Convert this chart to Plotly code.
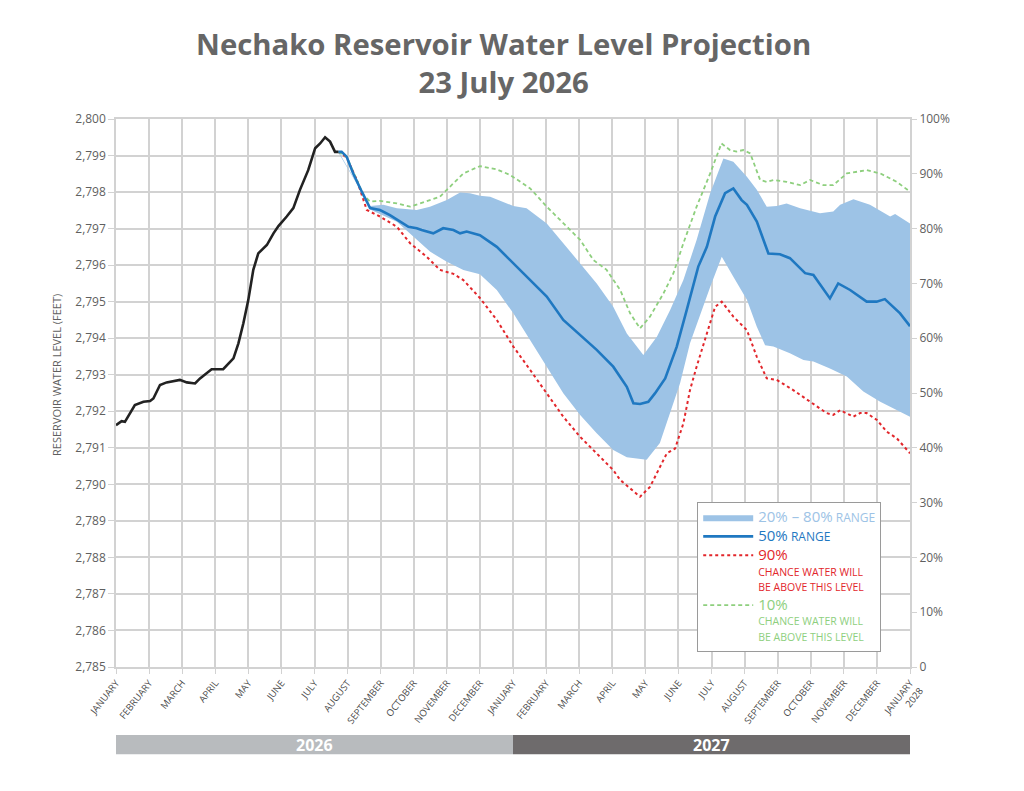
import plotly.graph_objects as go

# ---------------- data (t = months since 1 Jan 2026) ----------------
hist_t = [0.0, 0.17, 0.27, 0.42, 0.57, 0.83, 1.03, 1.13, 1.33, 1.53, 1.78, 1.93, 2.14, 2.39,
          2.54, 2.74, 2.89, 3.24, 3.39, 3.55, 3.70, 3.85, 4.00, 4.15, 4.30, 4.56, 4.76, 4.91,
          5.16, 5.36, 5.56, 5.81, 6.02, 6.17, 6.32, 6.47, 6.62, 6.72]
hist_lvl = [2791.62, 2791.73, 2791.71, 2791.94, 2792.17, 2792.26, 2792.28, 2792.35, 2792.72,
            2792.79, 2792.83, 2792.86, 2792.79, 2792.76, 2792.90, 2793.04, 2793.15, 2793.15,
            2793.31, 2793.45, 2793.86, 2794.41, 2795.05, 2795.87, 2796.32, 2796.55, 2796.87,
            2797.07, 2797.33, 2797.56, 2798.06, 2798.60, 2799.20, 2799.33, 2799.50, 2799.38,
            2799.10, 2799.10]

p50_t = [6.72, 6.82, 6.97, 7.17, 7.43, 7.68, 7.98, 8.28, 8.59, 8.84, 9.09, 9.24, 9.59, 9.89,
         10.20, 10.40, 10.60, 10.80, 11.00, 11.51, 12.01, 12.52, 13.02, 13.52, 14.03, 14.53,
         15.03, 15.44, 15.64, 15.84, 16.09, 16.29, 16.60, 16.95, 17.25, 17.60, 17.86, 18.11,
         18.41, 18.66, 18.91, 19.07, 19.37, 19.72, 20.07, 20.37, 20.83, 21.08, 21.58, 21.83,
         22.19, 22.69, 22.99, 23.24, 23.70, 23.95, 24.0]
p50_lvl = [2799.10, 2799.10, 2798.97, 2798.51, 2798.01, 2797.56, 2797.51, 2797.37, 2797.19,
           2797.05, 2797.01, 2796.96, 2796.87, 2797.01, 2796.96, 2796.87, 2796.92, 2796.87,
           2796.82, 2796.50, 2796.05, 2795.59, 2795.14, 2794.50, 2794.09, 2793.68, 2793.22,
           2792.67, 2792.22, 2792.20, 2792.26, 2792.49, 2792.90, 2793.77, 2794.77, 2795.96,
           2796.50, 2797.33, 2797.97, 2798.10, 2797.78, 2797.65, 2797.19, 2796.32, 2796.30,
           2796.19, 2795.78, 2795.73, 2795.09, 2795.50, 2795.32, 2795.00, 2795.00, 2795.07,
           2794.68, 2794.36, 2794.33]

p80_t = [6.72, 7.43, 7.68, 8.08, 8.49, 9.09, 9.49, 10.00, 10.40, 10.70, 11.00, 11.31, 12.01,
         12.41, 13.02, 13.52, 14.03, 14.53, 15.03, 15.44, 15.94, 16.35, 16.75, 17.15, 17.55,
         17.96, 18.36, 18.66, 19.07, 19.37, 19.67, 19.97, 20.27, 20.68, 21.28, 21.68, 21.89,
         22.29, 22.79, 23.40, 23.55, 24.0]
p80_lvl = [2799.12, 2798.04, 2797.62, 2797.65, 2797.56, 2797.51, 2797.60, 2797.78, 2797.99,
           2797.97, 2797.90, 2797.87, 2797.62, 2797.56, 2797.14, 2796.60, 2796.05, 2795.50,
           2794.86, 2794.13, 2793.54, 2794.04, 2794.77, 2795.59, 2796.69, 2797.97, 2798.92,
           2798.83, 2798.42, 2798.06, 2797.60, 2797.62, 2797.69, 2797.56, 2797.42, 2797.47,
           2797.65, 2797.80, 2797.65, 2797.33, 2797.40, 2797.14]

p20_t = [6.72, 7.43, 7.68, 8.49, 8.99, 9.49, 10.00, 10.50, 11.00, 11.51, 12.01, 12.52, 13.02,
         13.52, 14.03, 14.53, 15.03, 15.44, 16.04, 16.44, 16.75, 17.05, 17.35, 17.65, 17.96,
         18.31, 18.66, 19.07, 19.37, 19.62, 19.87, 20.37, 20.78, 21.08, 21.58, 22.09, 22.59,
         23.10, 23.60, 24.0]
p20_lvl = [2799.08, 2797.99, 2797.52, 2797.19, 2796.78, 2796.37, 2796.09, 2795.87, 2795.75,
           2795.32, 2794.68, 2793.95, 2793.22, 2792.49, 2791.90, 2791.40, 2790.94, 2790.74,
           2790.67, 2791.13, 2791.95, 2792.77, 2793.86, 2794.59, 2795.40, 2796.23, 2795.68,
           2795.05, 2794.31, 2793.81, 2793.77, 2793.59, 2793.40, 2793.36, 2793.17, 2792.95,
           2792.54, 2792.26, 2792.03, 2791.85]

p90_t = [6.72, 6.97, 7.28, 7.58, 7.98, 8.49, 8.89, 9.39, 9.79, 10.20, 10.50, 11.00, 11.51,
         12.01, 12.52, 13.02, 13.52, 14.03, 14.53, 15.03, 15.24, 15.84, 16.14, 16.65, 16.90,
         17.15, 17.35, 17.55, 17.86, 18.11, 18.31, 18.66, 19.07, 19.37, 19.67, 19.97, 20.47,
         20.98, 21.48, 21.68, 21.89, 22.29, 22.49, 22.69, 23.00, 23.30, 23.60, 24.0]
p90_lvl = [2799.10, 2798.95, 2798.33, 2797.51, 2797.33, 2797.05, 2796.60, 2796.23, 2795.87,
           2795.76, 2795.59, 2795.10, 2794.50, 2793.77, 2793.13, 2792.49, 2791.85, 2791.30,
           2790.85, 2790.39, 2790.12, 2789.66, 2789.93, 2790.85, 2790.98, 2791.67, 2792.58,
           2793.22, 2794.13, 2794.86, 2795.00, 2794.59, 2794.22, 2793.49, 2792.90, 2792.86,
           2792.58, 2792.26, 2791.95, 2791.90, 2792.03, 2791.85, 2791.95, 2791.95, 2791.76,
           2791.44, 2791.26, 2790.85]

p10_t = [6.72, 6.97, 7.48, 7.68, 7.98, 8.49, 8.89, 9.39, 9.79, 10.00, 10.50, 11.00, 11.51,
         11.91, 12.52, 13.02, 13.52, 14.03, 14.43, 14.83, 15.24, 15.54, 15.84, 16.14, 16.55,
         16.85, 17.15, 17.55, 17.96, 18.30, 18.56, 18.76, 18.96, 19.17, 19.47, 19.67, 19.87,
         20.27, 20.68, 20.98, 21.38, 21.68, 22.09, 22.69, 23.10, 23.60, 24.0]
p10_lvl = [2799.10, 2798.97, 2797.92, 2797.74, 2797.76, 2797.69, 2797.60, 2797.74, 2797.87,
           2798.06, 2798.51, 2798.71, 2798.62, 2798.47, 2798.10, 2797.60, 2797.14, 2796.69,
           2796.14, 2795.87, 2795.32, 2794.68, 2794.27, 2794.59, 2795.23, 2795.78, 2796.60,
           2797.60, 2798.51, 2799.33, 2799.15, 2799.11, 2799.15, 2799.06, 2798.33, 2798.28,
           2798.33, 2798.28, 2798.19, 2798.33, 2798.19, 2798.19, 2798.51, 2798.60, 2798.51,
           2798.28, 2798.01]

month_names = ["JANUARY", "FEBRUARY", "MARCH", "APRIL", "MAY", "JUNE", "JULY", "AUGUST",
               "SEPTEMBER", "OCTOBER", "NOVEMBER", "DECEMBER"]
x_ticktext = month_names + month_names + ["JANUARY<br>2028"]
y_ticks = list(range(2785, 2801))
pct_ticks = list(range(0, 101, 10))
pct_text = ["0"] + [f"{p}%" for p in pct_ticks[1:]]
years = ["2026", "2027"]
year_colors = ["#b8bbbe", "#6e6b6c"]

# ---------------- styles ----------------
GRID = "#d2d2d2"
TXT = "#5f5f5f"
BAND = "#9dc3e6"
BLUE = "#1f78c1"
RED = "#e2262b"
GREEN = "#8ecf7e"
FONT = "Open Sans"


def legend_label(big, small, color, br):
    sep = "<br>" if br else " "
    return (f"<span style='font-size:15px;color:{color}'>{big}</span>{sep}"
            f"<span style='font-size:{10.5 if br else 12}px;color:{color}'>{small}</span>")


fig = go.Figure()

# 20-80 band as a closed polygon
fig.add_trace(go.Scatter(
    x=p80_t + p20_t[::-1], y=p80_lvl + p20_lvl[::-1],
    fill="toself", fillcolor=BAND, mode="lines", line=dict(width=0, color=BAND),
    name=legend_label("20% – 80%", "RANGE", BAND, False), hoverinfo="skip"))

fig.add_trace(go.Scatter(
    x=p90_t, y=p90_lvl, mode="lines", line=dict(color=RED, width=2, dash="3px,3px"),
    showlegend=False))
fig.add_trace(go.Scatter(
    x=p10_t, y=p10_lvl, mode="lines", line=dict(color=GREEN, width=1.8, dash="4px,3px"),
    showlegend=False))

fig.add_trace(go.Scatter(
    x=p50_t, y=p50_lvl, mode="lines", line=dict(color=BLUE, width=2.6),
    name=legend_label("50%", "RANGE", BLUE, False)))

fig.add_trace(go.Scatter(
    x=hist_t, y=hist_lvl, mode="lines", line=dict(color="#222222", width=2.6),
    showlegend=False))

# legend entries for the dotted lines (kept after the 50% line)
fig.add_trace(go.Scatter(
    x=[None], y=[None], mode="lines", line=dict(color=RED, width=2, dash="3px,3px"),
    name=legend_label("90%", "CHANCE WATER WILL<br>BE ABOVE THIS LEVEL", RED, True)))
fig.add_trace(go.Scatter(
    x=[None], y=[None], mode="lines", line=dict(color=GREEN, width=1.8, dash="4px,3px"),
    name=legend_label("10%", "CHANCE WATER WILL<br>BE ABOVE THIS LEVEL", GREEN, True)))

# invisible trace on the right axis so it is drawn
fig.add_trace(go.Scatter(x=[None], y=[None], yaxis="y2", showlegend=False))

# year bars below the axis
for i, (yr, col) in enumerate(zip(years, year_colors)):
    fig.add_shape(type="rect", xref="x", yref="paper", x0=i * 12, x1=(i + 1) * 12,
                  y0=-0.159, y1=-0.124, fillcolor=col, line=dict(width=0), layer="below")
    fig.add_annotation(x=i * 12 + 6, y=-0.1415, xref="x", yref="paper", text=f"<b>{yr}</b>",
                       xanchor="center", yanchor="middle", showarrow=False,
                       font=dict(family=FONT, size=16, color="white"))

fig.add_annotation(x=-0.0743, y=0.533, xref="paper", yref="paper", textangle=-90,
                   xanchor="center", yanchor="middle",
                   text="RESERVOIR WATER LEVEL (FEET)", showarrow=False,
                   font=dict(family=FONT, size=11, color=TXT))

fig.update_layout(
    width=1024, height=791,
    margin=dict(l=108, r=122, t=111, b=132),
    paper_bgcolor="white", plot_bgcolor="white",
    title=dict(text="Nechako Reservoir Water Level Projection<br>23 July 2026",
               x=0.484, xanchor="center", y=0.941, yanchor="top",
               font=dict(family=FONT, size=29.3, color="#666666", weight="bold")),
    xaxis=dict(range=[0, 24], tickmode="array", tickvals=list(range(25)), ticktext=x_ticktext,
               tickangle=-52, tickfont=dict(family=FONT, size=9.5, color="#4a4a4a"),
               showgrid=True, gridcolor=GRID, gridwidth=1.5, zeroline=False,
               showline=True, linecolor=GRID, linewidth=1.5, mirror=True,
               ticks="outside", ticklen=5, tickcolor=GRID),
    yaxis=dict(range=[2785, 2800], tickmode="array", tickvals=y_ticks,
               tickformat=",d", tickfont=dict(family=FONT, size=12, color=TXT),
               showgrid=True, gridcolor=GRID, gridwidth=1.5, zeroline=False,
               showline=True, linecolor=GRID, linewidth=1.5, mirror=True,
               ticks="outside", ticklen=6, tickcolor=GRID),
    yaxis2=dict(range=[0, 100], overlaying="y", side="right", tickmode="array",
                tickvals=pct_ticks, ticktext=pct_text,
                tickfont=dict(family=FONT, size=12, color=TXT), showgrid=False,
                zeroline=False, ticks="outside", ticklen=6, tickcolor=GRID),
    legend=dict(x=0.732, y=0.301, xanchor="left", yanchor="top", valign="top",
                bgcolor="white", bordercolor="#9a9a9a", borderwidth=1,
                font=dict(family=FONT, size=12, color=BAND), itemwidth=50,
                tracegroupgap=2),
    showlegend=True,
)

fig.write_html("out.html")
